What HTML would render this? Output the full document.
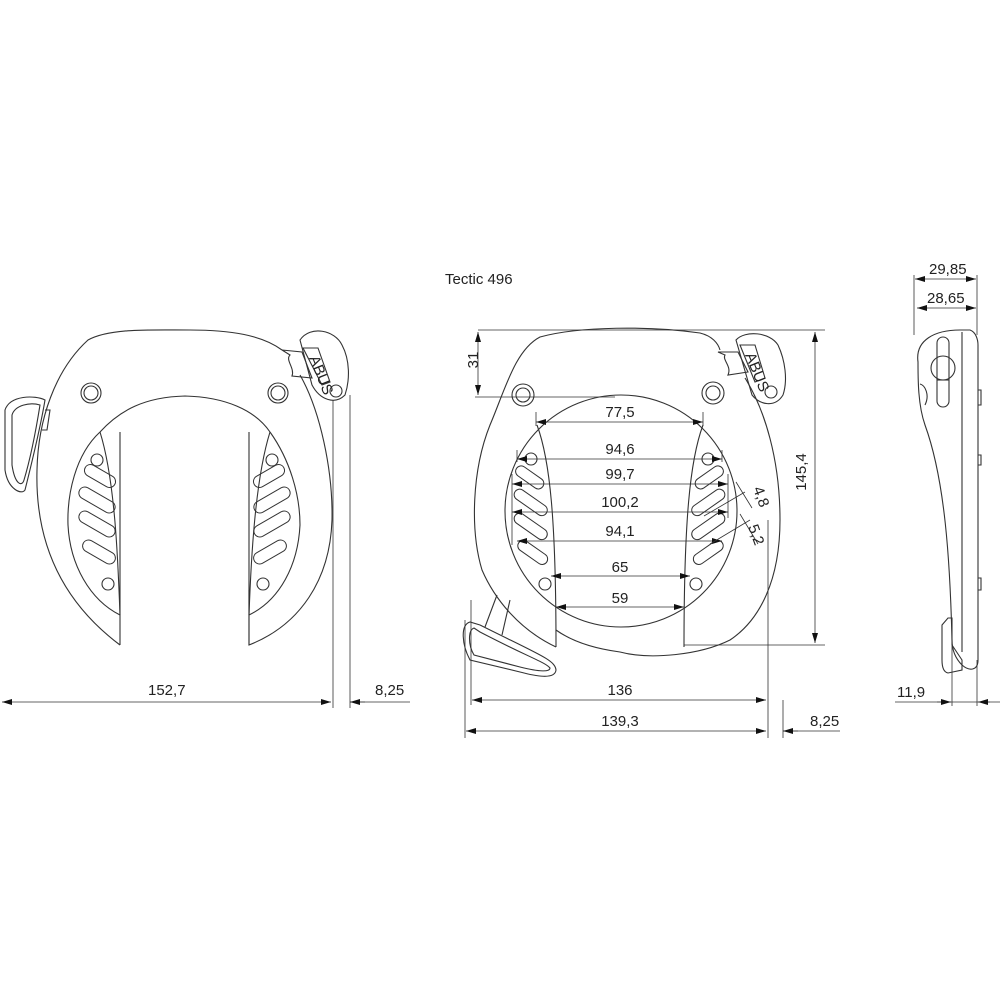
<!DOCTYPE html>
<html><head><meta charset="utf-8"><style>
html,body{margin:0;padding:0;background:#fff;}
svg{display:block;}
text{font-family:"Liberation Sans",sans-serif;font-size:15px;fill:#222;}
</style></head><body>
<svg width="1000" height="1000" viewBox="0 0 1000 1000" xmlns="http://www.w3.org/2000/svg">
<defs>
<marker id="a" viewBox="0 0 10 6" refX="10" refY="3" markerWidth="10" markerHeight="6" orient="auto-start-reverse" markerUnits="userSpaceOnUse"><path d="M0,0 L10,3 L0,6z" fill="#111"/></marker>
</defs>
<g fill="none" stroke="#333" stroke-width="1.1">
<!-- LEFT LOCK -->
<path d="M120,645 C60,600 35,540 37,470 C38,420 55,370 88,340 C110,328 150,330 190,330 C230,330 262,335 282,350 M300,375 C320,410 333,470 332,520 C330,580 300,625 249,645 L249,590"/>
<path d="M120,645 L120,432 M249,645 L249,432"/>
<path d="M100,432 C120,410 145,397 185,396 C225,397 255,410 270,432"/>
<path d="M100,432 C75,455 67,495 68,525 C70,565 90,600 120,615"/>
<path d="M120,615 C118,560 115,480 100,432"/>
<path d="M270,432 C290,460 300,495 300,525 C298,565 280,600 249,615"/>
<path d="M249,615 C251,560 255,480 270,432"/>
<circle cx="91" cy="393" r="10"/><circle cx="91" cy="393" r="7"/>
<circle cx="278" cy="393" r="10"/><circle cx="278" cy="393" r="7"/>
<circle cx="97" cy="460" r="6"/><circle cx="108" cy="584" r="6"/>
<circle cx="272" cy="460" r="6"/><circle cx="263" cy="584" r="6"/>
<g stroke-width="1">
<rect x="83" y="470" width="34" height="12" rx="6" transform="rotate(30 100 476)"/>
<rect x="77" y="494" width="40" height="12" rx="6" transform="rotate(30 97 500)"/>
<rect x="77" y="518" width="40" height="12" rx="6" transform="rotate(30 97 524)"/>
<rect x="81" y="546" width="36" height="12" rx="6" transform="rotate(30 99 552)"/>
<rect x="252" y="470" width="34" height="12" rx="6" transform="rotate(-30 269 476)"/>
<rect x="252" y="494" width="40" height="12" rx="6" transform="rotate(-30 272 500)"/>
<rect x="252" y="518" width="40" height="12" rx="6" transform="rotate(-30 272 524)"/>
<rect x="252" y="546" width="36" height="12" rx="6" transform="rotate(-30 270 552)"/>
</g>
<path d="M282,350 L302,352 L312,378 L292,376 C295,368 285,360 290,355z"/>
<path d="M300,340 C310,325 335,330 342,345 C350,360 350,380 345,395 C335,405 320,400 312,385z"/>
<path d="M303,348 L318,348 L330,382 L322,385z"/>
<circle cx="336" cy="391" r="6"/>
<path d="M45,400 C35,395 10,395 5,410 L5,470 C8,490 22,495 25,490 C30,470 40,430 45,400z"/>
<path d="M40,405 C30,402 15,405 12,415 L12,465 C15,485 22,487 24,480 C30,460 36,430 40,405z"/>
<path d="M45,410 L50,410 L47,430 L42,430"/>
<!-- dims left -->
<path d="M333,400 L333,708 M350,395 L350,708" stroke-width="0.8"/>
<path d="M2,702 L331,702" stroke-width="0.8" marker-start="url(#a)" marker-end="url(#a)"/>
<path d="M350,702 L410,702" stroke-width="0.8"/>
<path d="M350,702 L365,702" stroke-width="0.8" marker-start="url(#a)"/>

<!-- MIDDLE LOCK -->
<path d="M556,647 C520,630 495,600 482,570 C470,530 472,470 490,425 C505,390 515,350 540,337 C580,326 650,326 700,333 C712,336 718,343 720,350 M745,378 C765,410 780,460 780,520 C780,580 760,620 730,640 C700,655 650,660 620,652 C590,648 570,640 556,630"/>
<circle cx="621" cy="511" r="116"/>
<path d="M537,425 C550,460 556,520 556,647 M703,425 C690,460 684,520 684,647"/>
<circle cx="523" cy="395" r="11"/><circle cx="523" cy="395" r="7"/>
<circle cx="713" cy="393" r="11"/><circle cx="713" cy="393" r="7"/>
<circle cx="531" cy="459" r="6"/><circle cx="545" cy="584" r="6"/>
<circle cx="708" cy="459" r="6"/><circle cx="696" cy="584" r="6"/>
<g stroke-width="1">
<rect x="514" y="472" width="32" height="11" rx="5.5" transform="rotate(35 530 477)"/>
<rect x="512" y="497" width="38" height="11" rx="5.5" transform="rotate(35 531 502)"/>
<rect x="512" y="521" width="38" height="11" rx="5.5" transform="rotate(35 531 526)"/>
<rect x="516" y="547" width="34" height="11" rx="5.5" transform="rotate(35 533 552)"/>
<rect x="693" y="472" width="32" height="11" rx="5.5" transform="rotate(-35 709 477)"/>
<rect x="689" y="497" width="38" height="11" rx="5.5" transform="rotate(-35 708 502)"/>
<rect x="689" y="521" width="38" height="11" rx="5.5" transform="rotate(-35 708 526)"/>
<rect x="691" y="547" width="34" height="11" rx="5.5" transform="rotate(-35 708 552)"/>
</g>
<path d="M718,352 L738,352 L748,372 L728,375 C732,366 722,360 725,355z"/>
<path d="M736,340 C745,330 770,332 778,345 C785,360 788,380 783,395 C775,408 760,405 752,395z"/>
<path d="M740,345 L755,345 L765,378 L755,382z"/>
<circle cx="771" cy="392" r="6"/>
<path d="M497,595 L485,627 M510,600 L502,635"/>
<path d="M470,622 C460,625 462,645 470,660 L520,672 C535,676 555,680 556,670 C555,660 540,655 480,625z"/>
<path d="M474,628 C468,630 468,645 474,655 L520,667 C540,672 550,672 550,668 C545,662 530,658 480,632z"/>
<!-- middle dims -->
<g stroke-width="0.8">
<path d="M478,330 L825,330 M475,397 L615,397 M684,645 L825,645"/>
<path d="M478,332 L478,395" marker-start="url(#a)" marker-end="url(#a)"/>
<path d="M815,332 L815,643" marker-start="url(#a)" marker-end="url(#a)"/>
<path d="M536,412 L536,426 M703,412 L703,426 M517,450 L517,462 M722,450 L722,462 M512,474 L512,545 M728,474 L728,518"/>
<path d="M536,422 L703,422" marker-start="url(#a)" marker-end="url(#a)"/>
<path d="M517,459 L722,459" marker-start="url(#a)" marker-end="url(#a)"/>
<path d="M512,484 L728,484" marker-start="url(#a)" marker-end="url(#a)"/>
<path d="M512,512 L728,512" marker-start="url(#a)" marker-end="url(#a)"/>
<path d="M517,541 L722,541" marker-start="url(#a)" marker-end="url(#a)"/>
<path d="M551,576 L690,576" marker-start="url(#a)" marker-end="url(#a)"/>
<path d="M556,607 L684,607" marker-start="url(#a)" marker-end="url(#a)"/>
<path d="M736,482 L752,508 M740,514 L758,544 M704,516 L745,492 M710,544 L750,520"/>
<path d="M465,620 L465,738 M471,600 L471,705 M768,520 L768,738 M783,700 L783,738"/>
<path d="M472,700 L766,700" marker-start="url(#a)" marker-end="url(#a)"/>
<path d="M466,731 L766,731" marker-start="url(#a)" marker-end="url(#a)"/>
<path d="M783,731 L840,731"/>
<path d="M783,731 L798,731" marker-start="url(#a)"/>
</g>

<!-- SIDE VIEW -->
<path d="M918,362 C915,340 935,330 960,330 L970,330 C976,332 978,340 978,345 L978,660 C978,670 970,672 962,665 C955,658 952,650 952,640 C950,560 945,480 925,425 C918,405 918,380 918,362z"/>
<path d="M962,332 L962,652"/>
<rect x="937" y="337" width="12" height="70" rx="6"/>
<circle cx="943" cy="368" r="12"/>
<path d="M937,380 L949,380"/>
<path d="M920,384 C925,385 930,395 925,405 M978,390 L981,390 L981,405 L978,405 M978,455 L981,455 L981,465 L978,465 M978,578 L981,578 L981,590 L978,590"/>
<path d="M942,625 L948,618 L952,618 L952,645 L962,660 L962,670 L948,673 C943,672 942,665 942,660z"/>
<g stroke-width="0.8">
<path d="M914,275 L914,335 M977,275 L977,335"/>
<path d="M915,279 L976,279" marker-start="url(#a)" marker-end="url(#a)"/>
<path d="M917,308 L976,308" marker-start="url(#a)" marker-end="url(#a)"/>
<path d="M952,640 L952,706 M977,660 L977,706"/>
<path d="M895,702 L1000,702"/>
<path d="M937,702 L951,702" marker-end="url(#a)"/>
<path d="M990,702 L978,702" marker-end="url(#a)"/>
</g>
</g>
<text x="309" y="358" font-size="5" transform="rotate(68 309 358)">ABUS</text>
<text x="745" y="355" font-size="5" transform="rotate(68 745 355)">ABUS</text>
<text x="445" y="284" font-size="14">Tectic 496</text>
<text x="148" y="695">152,7</text>
<text x="375" y="695">8,25</text>
<text x="478" y="370" text-anchor="middle" transform="rotate(-90 473 365)">31</text>
<text x="810" y="478" text-anchor="middle" transform="rotate(-90 805 477)">145,4</text>
<text x="620" y="417" text-anchor="middle">77,5</text>
<text x="620" y="454" text-anchor="middle">94,6</text>
<text x="620" y="479" text-anchor="middle">99,7</text>
<text x="620" y="507" text-anchor="middle">100,2</text>
<text x="620" y="536" text-anchor="middle">94,1</text>
<text x="620" y="572" text-anchor="middle">65</text>
<text x="620" y="603" text-anchor="middle">59</text>
<text x="745" y="490" font-size="14" transform="rotate(70 750 495)">4,8</text>
<text x="740" y="528" font-size="14" transform="rotate(70 745 533)">5,2</text>
<text x="620" y="695" text-anchor="middle">136</text>
<text x="620" y="726" text-anchor="middle">139,3</text>
<text x="810" y="726">8,25</text>
<text x="929" y="274">29,85</text>
<text x="927" y="303">28,65</text>
<text x="897" y="697">11,9</text>
</svg>
</body></html>
